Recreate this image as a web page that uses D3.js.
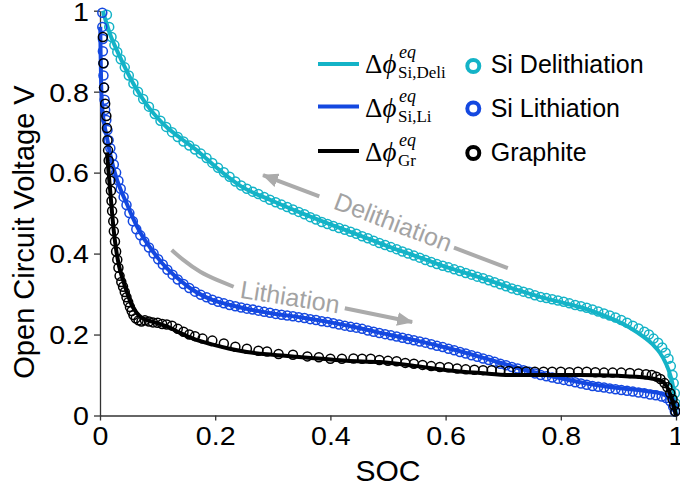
<!DOCTYPE html>
<html>
<head>
<meta charset="utf-8">
<script src="https://cdn.jsdelivr.net/npm/d3@7"></script>
<style>
  html, body { margin: 0; padding: 0; background: #fff; }
  svg { display: block; }
  text { font-family: "Liberation Sans", Arial, sans-serif; }
</style>
</head>
<body>
<svg id="chart" width="680" height="490"></svg>
<script>
// ---------------- DATA ----------------
const xTicks = [0, 0.2, 0.4, 0.6, 0.8, 1];
const xTickLabels = ["0", "0.2", "0.4", "0.6", "0.8", "1"];
const yTicks = [0, 0.2, 0.4, 0.6, 0.8, 1];
const yTickLabels = ["0", "0.2", "0.4", "0.6", "0.8", "1"];
const xLabel = "SOC";
const yLabel = "Open Circuit Voltage V";

// model lines [SOC, V]
const siDeliLine = [[0.005,1.0],[0.01,0.975],[0.017,0.944],[0.03,0.9],[0.045,0.855],[0.057,0.822],[0.08,0.77],[0.1,0.735],[0.116,0.712],[0.14,0.685],[0.174,0.648],[0.2,0.615],[0.243,0.568],[0.3,0.53],[0.35,0.5],[0.417,0.463],[0.46,0.44],[0.5,0.418],[0.55,0.393],[0.59,0.372],[0.63,0.354],[0.677,0.333],[0.72,0.312],[0.764,0.293],[0.8,0.28],[0.833,0.268],[0.87,0.25],[0.9,0.232],[0.92,0.217],[0.945,0.193],[0.96,0.175],[0.972,0.155],[0.982,0.13],[0.99,0.1],[0.995,0.07],[0.998,0.04],[1.0,0.0]];
const siLiLine = [[0.0005,0.96],[0.001,0.9],[0.002,0.82],[0.004,0.76],[0.008,0.715],[0.0116,0.69],[0.017,0.65],[0.023,0.614],[0.03,0.58],[0.038,0.55],[0.046,0.525],[0.055,0.495],[0.065,0.465],[0.075,0.44],[0.087,0.415],[0.1,0.39],[0.115,0.365],[0.13,0.345],[0.156,0.315],[0.18,0.295],[0.2,0.283],[0.226,0.273],[0.26,0.262],[0.3,0.252],[0.35,0.242],[0.4,0.23],[0.45,0.216],[0.5,0.2],[0.55,0.185],[0.6,0.168],[0.66,0.145],[0.7,0.128],[0.75,0.108],[0.8,0.092],[0.85,0.078],[0.9,0.068],[0.95,0.06],[0.977,0.053],[0.99,0.04],[0.996,0.02],[1.0,0.0]];
const grLine = [[0.012,0.65],[0.015,0.6],[0.018,0.55],[0.021,0.5],[0.024,0.455],[0.028,0.41],[0.033,0.37],[0.04,0.334],[0.048,0.3],[0.056,0.27],[0.064,0.253],[0.072,0.242],[0.081,0.236],[0.1,0.228],[0.12,0.218],[0.139,0.204],[0.165,0.188],[0.196,0.175],[0.225,0.165],[0.255,0.157],[0.3,0.15],[0.34,0.145],[0.385,0.14],[0.428,0.135],[0.486,0.132],[0.55,0.122],[0.602,0.112],[0.66,0.105],[0.717,0.1],[0.78,0.1],[0.833,0.1],[0.9,0.098],[0.95,0.093],[0.97,0.088],[0.98,0.08],[0.988,0.06],[0.994,0.035],[1.0,0.0]];

// measured points [SOC, V]
const siDeliData = [[0.012,0.99],[0.016,0.96],[0.02,0.935],[0.025,0.915],[0.03,0.898],[0.036,0.88],[0.043,0.86],[0.05,0.84],[0.058,0.82],[0.066,0.8],[0.075,0.782],[0.085,0.763],[0.095,0.745],[0.105,0.728],[0.115,0.713],[0.125,0.7],[0.135,0.688],[0.145,0.677],[0.155,0.667],[0.165,0.657],[0.175,0.647],[0.185,0.636],[0.195,0.624],[0.205,0.612],[0.215,0.601],[0.225,0.59],[0.235,0.578],[0.245,0.568],[0.255,0.56],[0.265,0.553],[0.275,0.547],[0.285,0.54],[0.295,0.533],[0.305,0.527],[0.315,0.521],[0.325,0.515],[0.335,0.509],[0.345,0.503],[0.355,0.497],[0.365,0.49],[0.375,0.484],[0.385,0.478],[0.395,0.473],[0.405,0.468],[0.415,0.463],[0.425,0.459],[0.435,0.454],[0.445,0.449],[0.455,0.443],[0.465,0.438],[0.475,0.432],[0.485,0.426],[0.495,0.421],[0.505,0.416],[0.515,0.411],[0.525,0.405],[0.535,0.4],[0.545,0.395],[0.555,0.39],[0.565,0.384],[0.575,0.379],[0.585,0.374],[0.595,0.37],[0.605,0.366],[0.615,0.361],[0.625,0.357],[0.635,0.352],[0.645,0.348],[0.655,0.343],[0.665,0.339],[0.675,0.334],[0.685,0.329],[0.695,0.324],[0.705,0.319],[0.715,0.314],[0.725,0.31],[0.735,0.306],[0.745,0.302],[0.755,0.297],[0.765,0.293],[0.775,0.29],[0.785,0.287],[0.795,0.284],[0.805,0.281],[0.815,0.277],[0.825,0.273],[0.835,0.27],[0.845,0.266],[0.855,0.262],[0.865,0.257],[0.875,0.252],[0.885,0.247],[0.895,0.242],[0.905,0.236],[0.915,0.229],[0.925,0.222],[0.935,0.215],[0.945,0.207],[0.953,0.2],[0.961,0.19],[0.969,0.18],[0.976,0.168],[0.982,0.155],[0.987,0.14],[0.991,0.122],[0.994,0.1],[0.996,0.08],[0.998,0.055],[0.999,0.03]];
const siLiData = [[0.004,0.995],[0.004,0.96],[0.005,0.93],[0.005,0.9],[0.006,0.87],[0.006,0.84],[0.007,0.81],[0.008,0.78],[0.009,0.755],[0.011,0.73],[0.013,0.705],[0.015,0.68],[0.018,0.66],[0.021,0.64],[0.024,0.62],[0.028,0.6],[0.032,0.58],[0.036,0.56],[0.041,0.54],[0.046,0.52],[0.051,0.5],[0.057,0.48],[0.063,0.46],[0.07,0.445],[0.077,0.43],[0.085,0.415],[0.093,0.4],[0.101,0.386],[0.109,0.373],[0.117,0.36],[0.126,0.348],[0.135,0.336],[0.145,0.325],[0.155,0.315],[0.165,0.306],[0.175,0.298],[0.185,0.292],[0.195,0.286],[0.205,0.281],[0.215,0.277],[0.225,0.273],[0.235,0.27],[0.245,0.267],[0.255,0.264],[0.265,0.262],[0.275,0.259],[0.285,0.256],[0.295,0.254],[0.305,0.251],[0.315,0.249],[0.325,0.247],[0.335,0.245],[0.345,0.243],[0.355,0.241],[0.365,0.238],[0.375,0.236],[0.385,0.233],[0.395,0.231],[0.405,0.228],[0.415,0.225],[0.425,0.222],[0.435,0.219],[0.445,0.217],[0.455,0.214],[0.465,0.21],[0.475,0.207],[0.485,0.204],[0.495,0.201],[0.505,0.198],[0.515,0.195],[0.525,0.192],[0.535,0.189],[0.545,0.186],[0.555,0.183],[0.565,0.18],[0.575,0.176],[0.585,0.172],[0.595,0.169],[0.605,0.165],[0.615,0.161],[0.625,0.157],[0.635,0.153],[0.645,0.149],[0.655,0.145],[0.665,0.141],[0.675,0.137],[0.685,0.133],[0.695,0.128],[0.705,0.124],[0.715,0.12],[0.725,0.116],[0.735,0.112],[0.745,0.108],[0.755,0.104],[0.765,0.1],[0.775,0.097],[0.785,0.094],[0.795,0.091],[0.805,0.088],[0.815,0.085],[0.825,0.082],[0.835,0.079],[0.845,0.076],[0.855,0.073],[0.865,0.071],[0.875,0.069],[0.885,0.067],[0.895,0.065],[0.905,0.063],[0.915,0.061],[0.925,0.059],[0.935,0.057],[0.945,0.055],[0.955,0.052],[0.965,0.05],[0.975,0.047],[0.983,0.043],[0.99,0.035],[0.995,0.022],[0.998,0.01]];
const grData = [[0.005,0.935],[0.006,0.87],[0.007,0.81],[0.009,0.77],[0.011,0.74],[0.012,0.71],[0.013,0.68],[0.014,0.655],[0.015,0.63],[0.016,0.605],[0.018,0.58],[0.019,0.555],[0.02,0.53],[0.021,0.505],[0.023,0.48],[0.024,0.455],[0.026,0.43],[0.028,0.405],[0.03,0.385],[0.032,0.365],[0.034,0.345],[0.037,0.33],[0.04,0.318],[0.043,0.305],[0.046,0.292],[0.049,0.28],[0.052,0.268],[0.055,0.258],[0.058,0.248],[0.062,0.24],[0.067,0.235],[0.072,0.232],[0.078,0.235],[0.085,0.232],[0.092,0.23],[0.1,0.229],[0.108,0.226],[0.116,0.225],[0.125,0.222],[0.135,0.214],[0.145,0.207],[0.155,0.2],[0.165,0.196],[0.178,0.19],[0.195,0.185],[0.215,0.178],[0.235,0.17],[0.255,0.165],[0.275,0.16],[0.29,0.158],[0.31,0.152],[0.335,0.15],[0.36,0.146],[0.38,0.144],[0.4,0.14],[0.42,0.14],[0.44,0.141],[0.455,0.14],[0.47,0.14],[0.485,0.137],[0.5,0.135],[0.515,0.134],[0.53,0.13],[0.545,0.128],[0.56,0.125],[0.575,0.122],[0.59,0.12],[0.605,0.119],[0.62,0.116],[0.635,0.114],[0.65,0.113],[0.665,0.112],[0.68,0.112],[0.695,0.111],[0.71,0.11],[0.725,0.109],[0.74,0.109],[0.755,0.108],[0.77,0.108],[0.785,0.108],[0.8,0.108],[0.815,0.107],[0.83,0.108],[0.845,0.108],[0.86,0.107],[0.875,0.106],[0.89,0.106],[0.905,0.106],[0.92,0.105],[0.935,0.104],[0.948,0.102],[0.958,0.1],[0.966,0.096],[0.973,0.09],[0.98,0.08],[0.985,0.07],[0.99,0.055],[0.994,0.04],[0.997,0.025],[0.999,0.01]];

// series definitions
const seriesNames = ["Si Delithiation", "Si Lithiation", "Graphite"];
const lineSubs = ["Si,Deli", "Si,Li", "Gr"];
const seriesColors = ["#14b3c7", "#1448e0", "#000000"];

// annotation anchor points (data coordinates)
const deliArrow = [[0.283, 0.594], [0.708, 0.364]];
const deliText = { label: "Delithiation", at: [0.509, 0.478] };
const liCurve = [[0.1245,0.409],[0.144,0.385],[0.174,0.355],[0.203,0.335],[0.232,0.318]];
const liArrow = [[0.425, 0.265], [0.542, 0.231]];
const liText = { label: "Lithiation", at: [0.33, 0.293] };

// ---------------- DRAW ----------------
const svg = d3.select("#chart");
const x = d3.scaleLinear().domain([0, 1]).range([100, 676]);
const y = d3.scaleLinear().domain([0, 1]).range([415.5, 10.7]);

const defs = svg.append("defs");
defs.append("marker")
  .attr("id", "ah").attr("markerUnits", "userSpaceOnUse")
  .attr("viewBox", "0 0 16 14").attr("refX", 15).attr("refY", 7)
  .attr("markerWidth", 16).attr("markerHeight", 14).attr("orient", "auto")
  .append("path").attr("d", "M0,0 L16,7 L0,14 Z").attr("fill", "#ababab");

// axes
const axisColor = "#333";
const gx = svg.append("g").attr("transform", `translate(0,${y(0)})`)
  .call(d3.axisBottom(x).tickValues(xTicks).tickFormat((d, i) => xTickLabels[i])
    .tickSize(5).tickSizeOuter(0).tickPadding(6));
const gy = svg.append("g").attr("transform", `translate(${x(0)},0)`)
  .call(d3.axisLeft(y).tickValues(yTicks).tickFormat((d, i) => yTickLabels[i])
    .tickSize(6).tickSizeOuter(0).tickPadding(5));
[gx, gy].forEach(g => {
  g.select(".domain").attr("stroke", axisColor).attr("stroke-width", 1.3);
  g.selectAll(".tick line").attr("stroke", axisColor).attr("stroke-width", 1.3);
  g.selectAll(".tick text").attr("fill", "#000")
    .style("font-family", "'Liberation Sans', Arial, sans-serif").style("font-size", "26px");
});
gx.selectAll(".tick text").attr("transform", "scale(1.1,1)");
gy.selectAll(".tick text").attr("dy", "0.36em").attr("x", -10).attr("transform", "scale(1.1,1)");

svg.append("text").attr("x", 388).attr("y", 481)
  .attr("text-anchor", "middle").style("font-size", "30px").text(xLabel);
svg.append("text").attr("transform", "rotate(-90)")
  .attr("x", -232).attr("y", 34).attr("text-anchor", "middle")
  .style("font-size", "29px").text(yLabel);

// annotations
const gray = "#ababab";
const lineGen = d3.line().x(d => x(d[0])).y(d => y(d[1]));
function segmentAround(p0, p1, t0, t1) {
  return [[p0[0] + (p1[0]-p0[0])*t0, p0[1] + (p1[1]-p0[1])*t0],
          [p0[0] + (p1[0]-p0[0])*t1, p0[1] + (p1[1]-p0[1])*t1]];
}
svg.append("path").attr("d", lineGen(segmentAround(deliArrow[1], deliArrow[0], 0, 0.22)))
  .attr("stroke", gray).attr("stroke-width", 4).attr("fill", "none");
svg.append("path").attr("d", lineGen(segmentAround(deliArrow[1], deliArrow[0], 0.77, 1)))
  .attr("stroke", gray).attr("stroke-width", 4).attr("fill", "none")
  .attr("marker-end", "url(#ah)");
const dAng = Math.atan2(y(deliArrow[1][1]) - y(deliArrow[0][1]), x(deliArrow[1][0]) - x(deliArrow[0][0])) * 180 / Math.PI;
svg.append("text")
  .attr("transform", `translate(${x(deliText.at[0])},${y(deliText.at[1])}) rotate(${dAng})`)
  .attr("text-anchor", "middle").attr("dy", "0.35em")
  .attr("fill", "#a3a3a3").style("font-size", "25px").text(deliText.label);

svg.append("path").attr("d", d3.line().x(d => x(d[0])).y(d => y(d[1])).curve(d3.curveNatural)(liCurve))
  .attr("stroke", gray).attr("stroke-width", 4).attr("fill", "none");
svg.append("path").attr("d", lineGen(liArrow))
  .attr("stroke", gray).attr("stroke-width", 4).attr("fill", "none")
  .attr("marker-end", "url(#ah)");
svg.append("text")
  .attr("transform", `translate(${x(liText.at[0])},${y(liText.at[1])}) rotate(9)`)
  .attr("text-anchor", "middle").attr("dy", "0.35em")
  .attr("fill", "#a3a3a3").style("font-size", "25px").text(liText.label);

// series
const dataSets = [siDeliData, siLiData, grData];
const lineSets = [siDeliLine, siLiLine, grLine];
const curveGen = d3.line().x(d => x(d[0])).y(d => y(d[1])).curve(d3.curveMonotoneX);
dataSets.forEach((ds, i) => {
  svg.append("g").selectAll("circle").data(ds).join("circle")
    .attr("cx", d => x(d[0])).attr("cy", d => y(d[1])).attr("r", 4.5)
    .attr("fill", "none").attr("stroke", seriesColors[i]).attr("stroke-width", 1.5);
  svg.append("path").attr("d", curveGen(lineSets[i]))
    .attr("fill", "none").attr("stroke", seriesColors[i]).attr("stroke-width", 4);
});

// legend
const legRows = [66, 108.5, 153];
const legBase = [73.3, 117.3, 160.7];
const leg = svg.append("g");
seriesNames.forEach((name, i) => {
  leg.append("line").attr("x1", 318).attr("x2", 359).attr("y1", legRows[i] - 2).attr("y2", legRows[i] - 2)
    .attr("stroke", seriesColors[i]).attr("stroke-width", 4);
  leg.append("text").attr("x", 365).attr("y", legBase[i])
    .style("font-family", "'Liberation Serif', 'DejaVu Serif', serif").style("font-size", "27px")
    .html('Δ<tspan font-style="italic">ϕ</tspan>');
  leg.append("text").attr("x", 399).attr("y", legBase[i] - 15)
    .style("font-family", "'Liberation Serif', 'DejaVu Serif', serif").style("font-size", "18px")
    .style("font-style", "italic").text("eq");
  leg.append("text").attr("x", 398).attr("y", legBase[i] + 5)
    .style("font-family", "'Liberation Serif', 'DejaVu Serif', serif").style("font-size", "17px")
    .text(lineSubs[i]);
  leg.append("circle").attr("cx", 473.3).attr("cy", legRows[i]).attr("r", 6)
    .attr("fill", "none").attr("stroke", seriesColors[i]).attr("stroke-width", 4);
  leg.append("text").attr("x", 490.7).attr("y", legBase[i])
    .style("font-size", "25px").attr("fill", "#000").text(name);
});
</script>
</body>
</html>
